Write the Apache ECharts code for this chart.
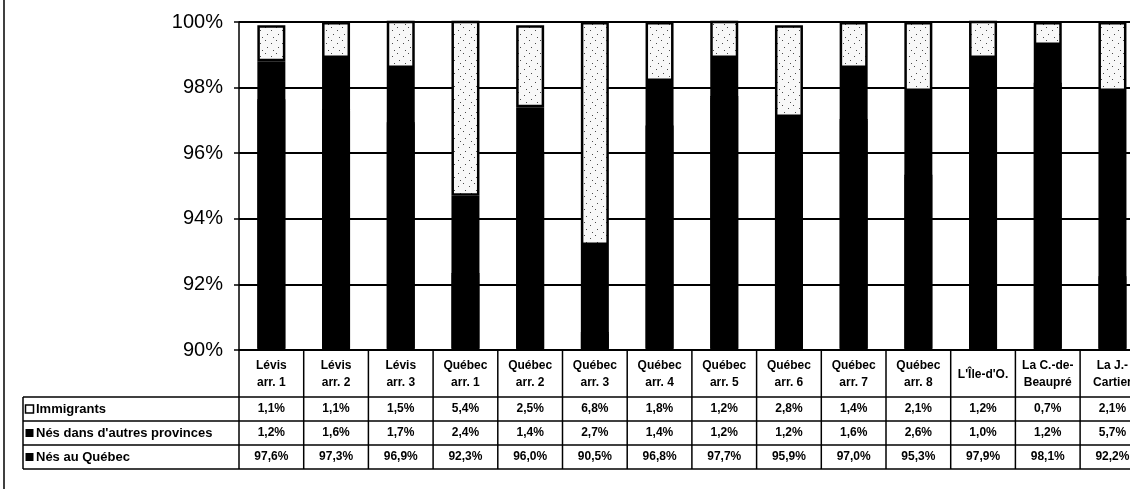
<!DOCTYPE html>
<html>
<head>
<meta charset="utf-8">
<script src="https://cdn.jsdelivr.net/npm/echarts@6/dist/echarts.min.js"></script>
<style>
  html, body { margin: 0; padding: 0; overflow: hidden; background: #fff; }
  #chart { width: 1170px; height: 489px; }
</style>
</head>
<body>
<div id="chart"></div>
<script>
// Territoires (arrondissements et MRC) de la région
const categories = [
  'Lévis\narr. 1', 'Lévis\narr. 2', 'Lévis\narr. 3',
  'Québec\narr. 1', 'Québec\narr. 2', 'Québec\narr. 3', 'Québec\narr. 4',
  'Québec\narr. 5', 'Québec\narr. 6', 'Québec\narr. 7', 'Québec\narr. 8',
  "L'Île-d'O.", 'La C.-de-\nBeaupré', 'La J.-\nCartier'
];

// Répartition de la population selon le lieu de naissance (%)
const immigrants      = [1.1, 1.1, 1.5, 5.4, 2.5, 6.8, 1.8, 1.2, 2.8, 1.4, 2.1, 1.2, 0.7, 2.1];
const autresProvinces = [1.2, 1.6, 1.7, 2.4, 1.4, 2.7, 1.4, 1.2, 1.2, 1.6, 2.6, 1.0, 1.2, 5.7];
const nesQuebec       = [97.6, 97.3, 96.9, 92.3, 96.0, 90.5, 96.8, 97.7, 95.9, 97.0, 95.3, 97.9, 98.1, 92.2];

const seriesNames = ['Immigrants', "Nés dans d'autres provinces", 'Nés au Québec'];
const tableRows = [immigrants, autresProvinces, nesQuebec];

// Échelle de l'axe vertical
const yMin = 90, yMax = 100, yStep = 2;

// Mise en page
const GRID_LEFT = 239, GRID_TOP = 22, PLOT_H = 328, COL_W = 64.7;
const HEADER_BOTTOM = 397, ROW_H = 24, TABLE_LEFT = 23;
const FONT = '"Liberation Sans", Arial, sans-serif';
const NARROW = '"Liberation Sans Narrow", "Liberation Sans", Arial, sans-serif';

// Trame pointillée des segments « Immigrants »
function stipple() {
  const c = document.createElement('canvas');
  c.width = 11; c.height = 13;
  const g = c.getContext('2d');
  g.fillStyle = '#f8f8f8';
  g.fillRect(0, 0, c.width, c.height);
  g.fillStyle = '#4a4a4a';
  [[1, 1], [7, 4], [3, 8], [9, 11]].forEach(function (p) {
    g.fillRect(p[0], p[1], 1, 1);
  });
  return c;
}

const fmt = v => v.toFixed(1).replace('.', ',') + '%';

const chart = echarts.init(document.getElementById('chart'), null, { renderer: 'canvas' });

// Le segment du bas déborde d'un pixel vers le haut (ombre pleine) pour
// que les deux segments noirs se rejoignent sans liseré gris.
const bottomStyle = { color: '#000', shadowColor: '#000', shadowBlur: 0, shadowOffsetY: -1.5 };
const middleStyle = { color: '#000' };

chart.setOption({
  animation: false,
  backgroundColor: '#fff',
  grid: { left: GRID_LEFT, top: GRID_TOP, width: COL_W * categories.length, height: PLOT_H },
  xAxis: {
    type: 'category',
    data: categories,
    axisLine: { show: true, lineStyle: { color: '#000', width: 1.5 } },
    axisTick: { show: false },
    axisLabel: { show: false },
    splitLine: { show: false }
  },
  yAxis: {
    type: 'value',
    min: yMin, max: yMax, interval: yStep,
    axisLine: { show: true, lineStyle: { color: '#000', width: 1.5 } },
    axisTick: { show: true, length: 5, lineStyle: { color: '#000', width: 1.5 } },
    axisLabel: { formatter: '{value}%', color: '#000', fontSize: 20, fontFamily: FONT, margin: 16 },
    splitLine: { show: true, lineStyle: { color: '#000', width: 1.8 } }
  },
  series: [
    { name: seriesNames[2], type: 'bar', stack: 'pop', data: nesQuebec, barWidth: 28, itemStyle: bottomStyle },
    { name: seriesNames[1], type: 'bar', stack: 'pop', data: autresProvinces, barWidth: 28, itemStyle: middleStyle },
    {
      name: seriesNames[0], type: 'bar', stack: 'pop', data: immigrants,
      barWidth: 28,
      itemStyle: { color: { image: stipple(), repeat: 'repeat' }, borderColor: '#000', borderWidth: 2.5 }
    }
  ]
});

// Tableau de données sous le graphique
function buildTable() {
  const els = [];
  const n = categories.length;
  const centers = categories.map((c, i) => chart.convertToPixel({ xAxisIndex: 0 }, i));
  const left = centers[0] - COL_W / 2;
  const right = centers[n - 1] + COL_W / 2;
  const axisY = chart.convertToPixel({ yAxisIndex: 0 }, yMin);
  const bottom = HEADER_BOTTOM + ROW_H * tableRows.length;
  const line = (x1, y1, x2, y2, w) => ({
    type: 'line', silent: true,
    shape: { x1: x1, y1: y1, x2: x2, y2: y2 },
    style: { stroke: '#000', lineWidth: w || 1.5 }
  });
  const text = (x, y, t, font, align) => ({
    type: 'text', silent: true, x: x, y: y,
    style: {
      text: t, fill: '#000', font: font,
      align: align || 'center', textAlign: align || 'center',
      verticalAlign: 'middle', textVerticalAlign: 'middle', lineHeight: 17
    }
  });

  // cadre à gauche
  els.push(line(4, 0, 4, 489, 1.5));

  // lignes verticales des colonnes
  for (let i = 0; i <= n; i++) {
    const x = left + i * COL_W;
    els.push(line(x, axisY, x, bottom));
  }
  // lignes horizontales
  for (let r = 0; r <= tableRows.length; r++) {
    const y = HEADER_BOTTOM + r * ROW_H;
    els.push(line(TABLE_LEFT, y, right, y));
  }
  els.push(line(TABLE_LEFT, HEADER_BOTTOM, TABLE_LEFT, bottom));

  // en-têtes de colonnes
  categories.forEach((c, i) => {
    els.push(text(centers[i], (axisY + HEADER_BOTTOM) / 2 + 1, c, 'bold 12px ' + NARROW));
  });

  // lignes de valeurs avec leur pastille de légende
  tableRows.forEach((vals, r) => {
    const cy = HEADER_BOTTOM + r * ROW_H + ROW_H / 2;
    els.push({
      type: 'rect', silent: true,
      shape: { x: TABLE_LEFT + 2.5, y: cy - 4, width: 8, height: 8 },
      style: r === 0 ? { fill: '#fff', stroke: '#000', lineWidth: 1.5 } : { fill: '#000' }
    });
    els.push(text(TABLE_LEFT + 13, cy, seriesNames[r], 'bold 13px ' + FONT, 'left'));
    vals.forEach((v, i) => {
      els.push(text(centers[i], cy, fmt(v), 'bold 12px ' + FONT));
    });
  });
  return els;
}

chart.setOption({ graphic: { elements: buildTable() } });
</script>
</body>
</html>
